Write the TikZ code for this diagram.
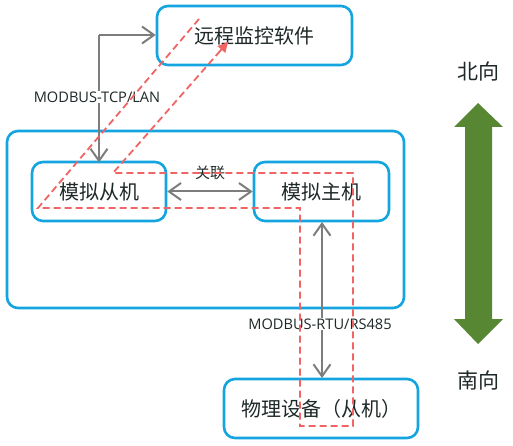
\documentclass[tikz,border=0pt]{standalone}
\usepackage{fontspec}
\setmainfont{Noto Sans CJK SC}
\newfontfamily\latinfont{Open Sans}
\usetikzlibrary{arrows.meta,calc}
\definecolor{boxblue}{RGB}{20,165,225}
\definecolor{arrgray}{RGB}{125,125,125}
\definecolor{pathred}{RGB}{240,100,100}
\definecolor{olivegreen}{RGB}{88,135,52}
\definecolor{txt}{RGB}{30,40,40}
\tikzset{
  box/.style={draw=boxblue, line width=2.6pt, rounded corners=11pt, text=txt, font=\fontsize{20}{22}\selectfont},
  conn/.style={draw=arrgray, line width=2pt, {Straight Barb[length=12pt,width=17pt]}-{Straight Barb[length=12pt,width=17pt]}},
  conn1/.style={draw=arrgray, line width=2pt, -{Straight Barb[length=12pt,width=17pt]}},
  lbl/.style={fill=white, text=txt, font=\latinfont\fontsize{14.6}{16}\selectfont, inner sep=1pt},
  route/.style={draw=pathred, line width=1.8pt, dash pattern=on 7pt off 4pt},
  dirlbl/.style={text=txt, font=\fontsize{21}{23}\selectfont}
}
\begin{document}
\begin{tikzpicture}[x=1pt,y=-1pt]
\useasboundingbox (0,0) rectangle (513,446);
% outer frame
\draw[draw=boxblue, line width=2.6pt, rounded corners=11pt] (7,131) rectangle (404,308);
% boxes
\node[box, minimum width=195pt, minimum height=59pt] (remote) at (254.5,35.5) {远程监控软件};
\node[box, minimum width=134pt, minimum height=59pt] (slave) at (99,191.5) {模拟从机};
\node[box, minimum width=135pt, minimum height=59pt] (master) at (321.5,191.5) {模拟主机};
\node[box, minimum width=194pt, minimum height=59pt] (phys) at (321,408.5) {物理设备（从机）};
% connectors
\coordinate (tcpcorner) at (99,35);
\draw[conn1] (tcpcorner) -- (remote.west |- tcpcorner);
\draw[conn1] (tcpcorner) -- (99,162.5);
\node[lbl] (tcplbl) at (97,97) {MODBUS-TCP/LAN};
\draw[conn] (slave.east) -- (master.west);
\node[text=txt, font=\fontsize{15}{17}\selectfont] (assoc) at (210,173) {关联};
\draw[conn] (322,222) -- (322,378);
\node[lbl] (rtulbl) at (320,324) {MODBUS-RTU/RS485};
% route
\coordinate (r0) at (199,19);
\coordinate (r1) at (38,208);
\coordinate (r2) at (300,208);
\coordinate (r3) at (300,426);
\coordinate (r4) at (353,426);
\coordinate (r5) at (353,173);
\coordinate (r6) at (113,173);
\coordinate (r7) at (228,42);
\draw[route] (r0) -- (r1) -- (r2) -- (r3) -- (r4) -- (r5) -- (r6) -- (r7);
\draw[route, solid, -{Triangle[length=10pt,width=10pt]}] ($(r7)!12pt!(r6)$) -- (r7);
% direction arrow
\fill[olivegreen] (478,103) -- (503,127) -- (492,127) -- (492,319) -- (503,319) -- (478,344) -- (454,319) -- (465,319) -- (465,127) -- (454,127) -- cycle;
\node[dirlbl] (north) at (478,72) {北向};
\node[dirlbl] (south) at (478,380) {南向};
\end{tikzpicture}
\end{document}
